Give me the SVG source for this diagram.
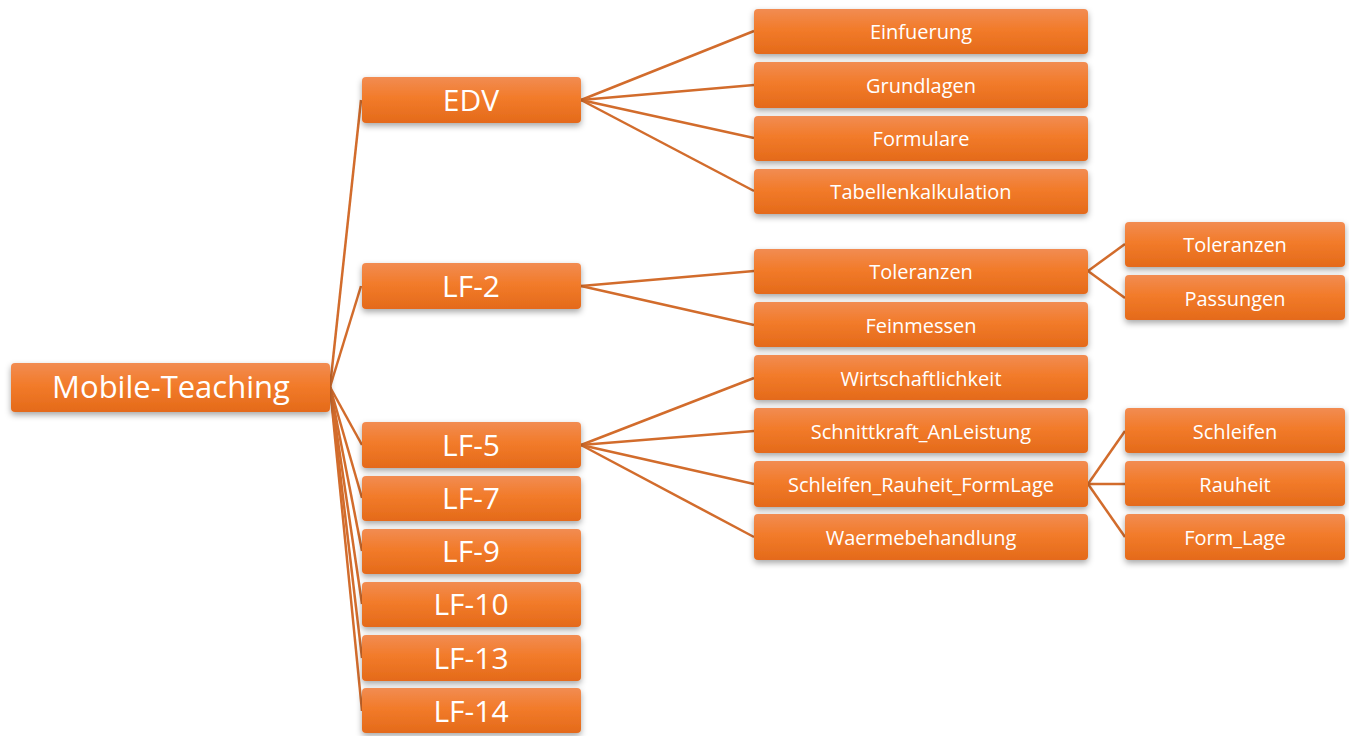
<svg xmlns="http://www.w3.org/2000/svg" width="1349" height="736" viewBox="0 0 1349 736">
<defs>
<linearGradient id="g" x1="0" y1="0" x2="0" y2="1">
<stop offset="0" stop-color="#f28c52"/>
<stop offset="0.45" stop-color="#f27b2a"/>
<stop offset="1" stop-color="#e46a1a"/>
</linearGradient>
<filter id="sh" x="-10%" y="-30%" width="120%" height="170%">
<feDropShadow dx="0" dy="3" stdDeviation="3" flood-color="#000" flood-opacity="0.35"/>
</filter>
</defs>
<style>
.n rect{fill:url(#g);filter:url(#sh)}
.n text{fill:#fff;font-family:"Open Sans","Liberation Sans",sans-serif;text-anchor:middle;dominant-baseline:central}
.l0 text{font-size:31px}
.l1 text{font-size:30px}
.l2 text{font-size:20px;font-weight:500}
.c line{stroke:#d26c2c;stroke-width:2.5;fill:none}
</style>
<rect width="1349" height="736" fill="#fff"/>
<g class="c">
<line x1="330" y1="387" x2="361" y2="100"/>
<line x1="330" y1="387" x2="361" y2="286"/>
<line x1="330" y1="387" x2="362" y2="445"/>
<line x1="330" y1="387" x2="362" y2="498"/>
<line x1="330" y1="387" x2="362" y2="551"/>
<line x1="330" y1="387" x2="362" y2="604"/>
<line x1="330" y1="387" x2="362" y2="658"/>
<line x1="330" y1="387" x2="362" y2="711"/>
<line x1="581" y1="100" x2="754" y2="31"/>
<line x1="581" y1="100" x2="754" y2="85"/>
<line x1="581" y1="100" x2="754" y2="138"/>
<line x1="581" y1="100" x2="754" y2="191"/>
<line x1="581" y1="286" x2="754" y2="271"/>
<line x1="581" y1="286" x2="754" y2="325"/>
<line x1="581" y1="445" x2="754" y2="378"/>
<line x1="581" y1="445" x2="754" y2="431"/>
<line x1="581" y1="445" x2="754" y2="484"/>
<line x1="581" y1="445" x2="754" y2="537"/>
<line x1="1088" y1="271" x2="1125" y2="244"/>
<line x1="1088" y1="271" x2="1125" y2="298"/>
<line x1="1088" y1="484" x2="1125" y2="431"/>
<line x1="1088" y1="484" x2="1125" y2="484"/>
<line x1="1088" y1="484" x2="1125" y2="537"/>
</g>
<g id="root" class="n l0"><rect x="11" y="363" width="319" height="49" rx="4"/><text x="171" y="386">Mobile-Teaching</text></g>
<g id="edv" class="n l1"><rect x="362" y="77" width="219" height="46" rx="4"/><text x="471" y="99">EDV</text></g>
<g id="lf2" class="n l1"><rect x="362" y="263" width="219" height="46" rx="4"/><text x="471" y="285">LF-2</text></g>
<g id="lf5" class="n l1"><rect x="362" y="422" width="219" height="46" rx="4"/><text x="471" y="444">LF-5</text></g>
<g id="lf7" class="n l1"><rect x="362" y="476" width="219" height="45" rx="4"/><text x="471" y="497">LF-7</text></g>
<g id="lf9" class="n l1"><rect x="362" y="529" width="219" height="45" rx="4"/><text x="471" y="550">LF-9</text></g>
<g id="lf10" class="n l1"><rect x="362" y="582" width="219" height="45" rx="4"/><text x="471" y="603">LF-10</text></g>
<g id="lf13" class="n l1"><rect x="362" y="635" width="219" height="46" rx="4"/><text x="471" y="657">LF-13</text></g>
<g id="lf14" class="n l1"><rect x="362" y="688" width="219" height="45" rx="4"/><text x="471" y="710">LF-14</text></g>
<g id="einf" class="n l2"><rect x="754" y="9" width="334" height="45" rx="4"/><text x="921" y="31">Einfuerung</text></g>
<g id="grund" class="n l2"><rect x="754" y="62" width="334" height="46" rx="4"/><text x="921" y="85">Grundlagen</text></g>
<g id="form" class="n l2"><rect x="754" y="116" width="334" height="45" rx="4"/><text x="921" y="138">Formulare</text></g>
<g id="tab" class="n l2"><rect x="754" y="169" width="334" height="45" rx="4"/><text x="921" y="191">Tabellenkalkulation</text></g>
<g id="tol" class="n l2"><rect x="754" y="249" width="334" height="45" rx="4"/><text x="921" y="271">Toleranzen</text></g>
<g id="fein" class="n l2"><rect x="754" y="302" width="334" height="45" rx="4"/><text x="921" y="325">Feinmessen</text></g>
<g id="wirt" class="n l2"><rect x="754" y="355" width="334" height="45" rx="4"/><text x="921" y="378">Wirtschaftlichkeit</text></g>
<g id="schn" class="n l2"><rect x="754" y="408" width="334" height="45" rx="4"/><text x="921" y="431">Schnittkraft_AnLeistung</text></g>
<g id="srf" class="n l2"><rect x="754" y="461" width="334" height="46" rx="4"/><text x="921" y="484">Schleifen_Rauheit_FormLage</text></g>
<g id="waer" class="n l2"><rect x="754" y="514" width="334" height="46" rx="4"/><text x="921" y="537">Waermebehandlung</text></g>
<g id="tol2" class="n l2"><rect x="1125" y="222" width="220" height="45" rx="4"/><text x="1235" y="244">Toleranzen</text></g>
<g id="pass" class="n l2"><rect x="1125" y="275" width="220" height="45" rx="4"/><text x="1235" y="298">Passungen</text></g>
<g id="schl" class="n l2"><rect x="1125" y="408" width="220" height="45" rx="4"/><text x="1235" y="431">Schleifen</text></g>
<g id="rau" class="n l2"><rect x="1125" y="461" width="220" height="45" rx="4"/><text x="1235" y="484">Rauheit</text></g>
<g id="fl" class="n l2"><rect x="1125" y="514" width="220" height="46" rx="4"/><text x="1235" y="537">Form_Lage</text></g>
</svg>
